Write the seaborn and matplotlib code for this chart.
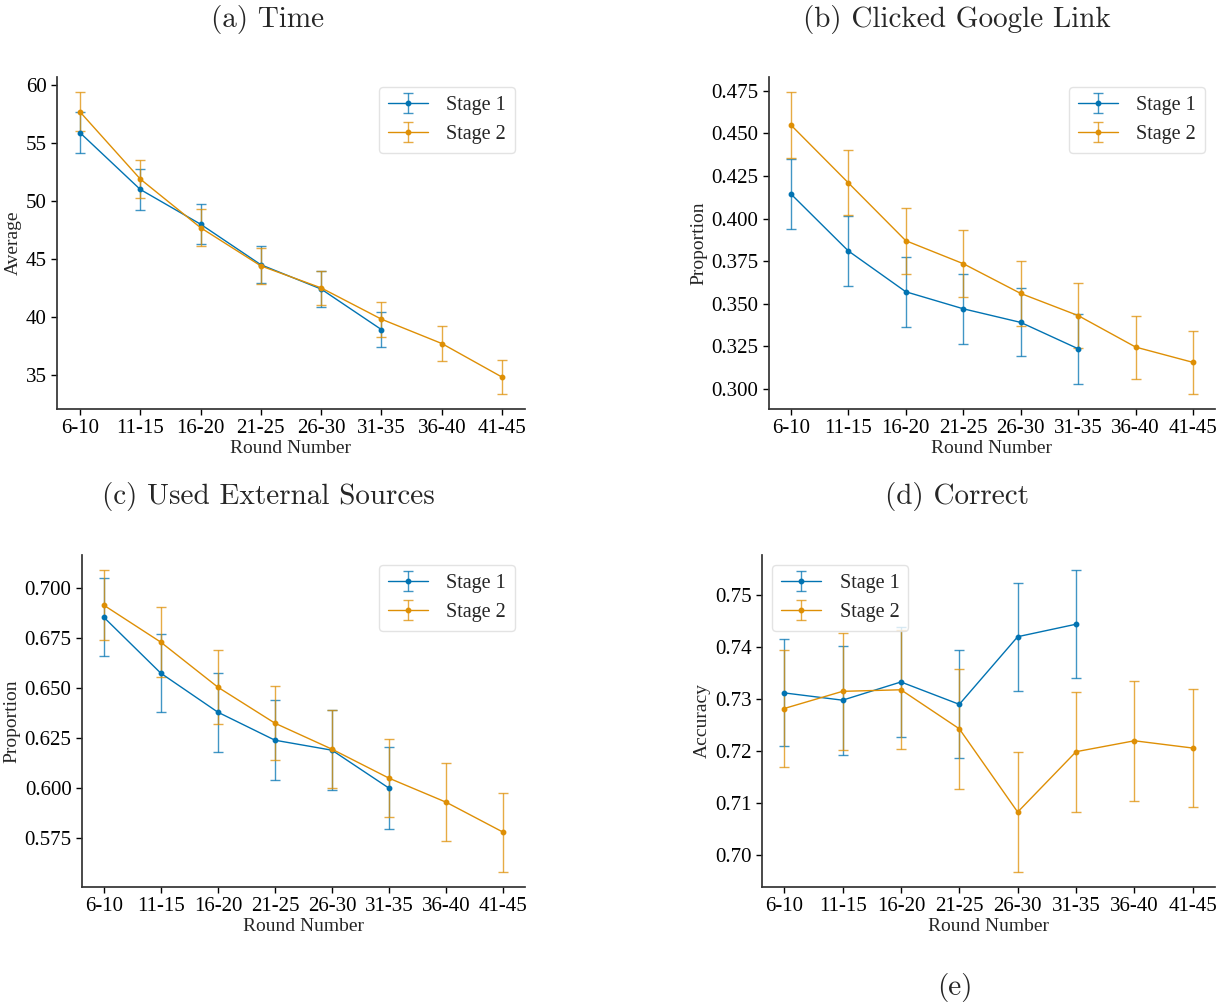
import matplotlib
matplotlib.use("Agg")
import matplotlib.pyplot as plt
import matplotlib.ticker as mticker
import seaborn as sns
import numpy as np

rounds = ["6-10", "11-15", "16-20", "21-25", "26-30", "31-35", "36-40", "41-45"]

# (a) Time
time_s1 = [55.9, 51.0, 48.0, 44.5, 42.4, 38.9]
time_s1_err = [1.8, 1.75, 1.7, 1.6, 1.55, 1.5]
time_s2 = [57.7, 51.9, 47.7, 44.4, 42.5, 39.8, 37.7, 34.8]
time_s2_err = [1.7, 1.65, 1.6, 1.55, 1.5, 1.5, 1.5, 1.45]

# (b) Clicked Google Link
google_s1 = [0.4145, 0.381, 0.357, 0.347, 0.339, 0.3235]
google_s1_err = [0.0205, 0.0205, 0.0205, 0.0205, 0.020, 0.0205]
google_s2 = [0.455, 0.421, 0.387, 0.3735, 0.356, 0.343, 0.3245, 0.3155]
google_s2_err = [0.0193, 0.019, 0.0195, 0.0195, 0.019, 0.019, 0.0185, 0.0185]

# (c) Used External Sources
ext_s1 = [0.6855, 0.6575, 0.638, 0.624, 0.619, 0.600]
ext_s1_err = [0.0195, 0.0195, 0.0198, 0.020, 0.020, 0.0205]
ext_s2 = [0.6915, 0.673, 0.6505, 0.6325, 0.6195, 0.605, 0.593, 0.578]
ext_s2_err = [0.0175, 0.0175, 0.0185, 0.0185, 0.0195, 0.0195, 0.0195, 0.0198]

# (d) Correct
acc_s1 = [0.7311, 0.7297, 0.7332, 0.7289, 0.7419, 0.7443]
acc_s1_err = [0.0103, 0.0105, 0.0105, 0.0104, 0.0104, 0.0104]
acc_s2 = [0.7281, 0.7314, 0.7317, 0.7242, 0.7082, 0.7198, 0.7219, 0.7205]
acc_s2_err = [0.0113, 0.0112, 0.0114, 0.0115, 0.0115, 0.0115, 0.0115, 0.0114]

sns.set_theme(style="ticks", palette="colorblind")
plt.rcParams["font.family"] = ["Liberation Serif", "DejaVu Serif"]
pal = sns.color_palette("colorblind")
c1, c2 = pal[0], pal[1]

fig = plt.figure(figsize=(12.28, 10.07), dpi=100)
W, H = 1228.0, 1007.0

def axes_px(l, t, r, b):
    return fig.add_axes([l / W, 1 - b / H, (r - l) / W, (b - t) / H])

panels = [
    (axes_px(57, 77, 525, 409), time_s1, time_s1_err, time_s2, time_s2_err, "Average", "upper right"),
    (axes_px(769, 77, 1215, 409), google_s1, google_s1_err, google_s2, google_s2_err, "Proportion", "upper right"),
    (axes_px(82, 555, 525, 887), ext_s1, ext_s1_err, ext_s2, ext_s2_err, "Proportion", "upper right"),
    (axes_px(762, 555, 1215, 887), acc_s1, acc_s1_err, acc_s2, acc_s2_err, "Accuracy", "upper left"),
]

for ax, s1, e1, s2, e2, ylab, loc in panels:
    x = np.arange(len(rounds))
    for vals, errs, col, lab in [(s1, e1, c1, "Stage 1"), (s2, e2, c2, "Stage 2")]:
        n = len(vals)
        cont = ax.errorbar(x[:n], vals, yerr=errs, color=col, marker="o", markersize=3.2,
                           linewidth=1.0, elinewidth=1.0, capsize=3.5, capthick=1.0, label=lab)
        for art in cont[1]:
            art.set_alpha(0.75)
        for art in cont[2]:
            art.set_alpha(0.75)
    ax.set_xticks(x)
    ax.set_xticklabels(rounds)
    ax.tick_params(axis="both", labelsize=15, length=4, width=1, colors="black")
    ax.set_xlabel("Round Number", fontsize=14, labelpad=1)
    ax.set_ylabel(ylab, fontsize=14, labelpad=3)
    ax.set_xlim(-0.38, 7.38)
    for sp in ax.spines.values():
        sp.set_color("#333333")
    sns.despine(ax=ax)
    leg = ax.legend(loc=loc, fontsize=14.5, frameon=True, fancybox=True, handlelength=2.0,
                    handletextpad=0.9, borderpad=0.45, labelspacing=0.5)
    leg.get_frame().set_edgecolor("#dddddd")

ax_a, ax_b, ax_c, ax_d = [p[0] for p in panels]
ax_b.yaxis.set_major_locator(mticker.MultipleLocator(0.025))
ax_b.yaxis.set_major_formatter(mticker.FormatStrFormatter("%.3f"))
ax_c.yaxis.set_major_locator(mticker.MultipleLocator(0.025))
ax_c.yaxis.set_major_formatter(mticker.FormatStrFormatter("%.3f"))
ax_d.yaxis.set_major_locator(mticker.MultipleLocator(0.01))
ax_d.yaxis.set_major_formatter(mticker.FormatStrFormatter("%.2f"))

title_kw = dict(fontsize=21, family=["cmr10", "DejaVu Serif"], ha="center", va="center")
fig.text(268 / W, 1 - 20 / H, "(a) Time", **title_kw)
fig.text(957 / W, 1 - 20 / H, "(b) Clicked Google Link", **title_kw)
fig.text(268 / W, 1 - 497 / H, "(c) Used External Sources", **title_kw)
fig.text(957 / W, 1 - 497 / H, "(d) Correct", **title_kw)
fig.text(955 / W, 1 - 987 / H, "(e)", **title_kw)

fig.savefig("out.png", dpi=100, facecolor="white")
